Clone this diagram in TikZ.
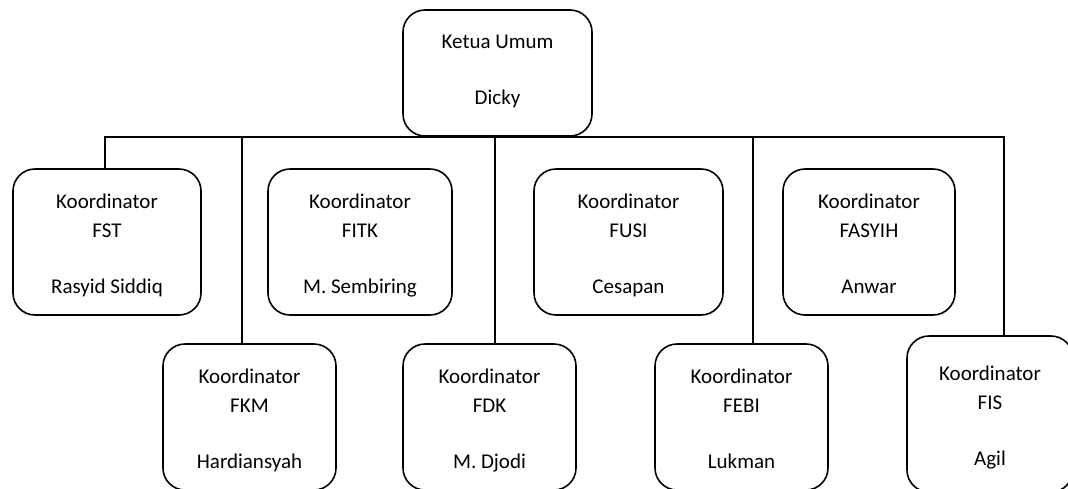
\documentclass[tikz,border=0pt]{standalone}
\usepackage{fontspec}
\setmainfont{Carlito}
\usepackage{tikz}
\usetikzlibrary{positioning}

\newcommand{\koor}[2]{\rule{0pt}{24pt}Koordinator\\#1\\[27pt]#2\rule[-6pt]{0pt}{6pt}}

\begin{document}
\begin{tikzpicture}[
  x=1pt, y=-1pt,
  orgbox/.style={draw, rounded corners=22pt, align=center, inner sep=0pt,
                 line width=1.6pt, minimum height=146pt,
                 font=\fontsize{21}{29}\selectfont},
  link/.style={draw, line width=1.6pt}
]
\useasboundingbox (0,0) rectangle (1068,488);
% ketua umum
\node[orgbox, minimum width=189pt, minimum height=126pt] (ketua) at (497.5,73) {\rule{0pt}{14pt}Ketua Umum\\[27pt]Dicky\rule[-7pt]{0pt}{7pt}};
% baris atas
\node[orgbox, minimum width=188pt] (fst) at (107,242) {\koor{FST}{Rasyid Siddiq}};
\node[orgbox, minimum width=184pt] (fitk) at (360,242) {\koor{FITK}{M. Sembiring}};
\node[orgbox, minimum width=189pt] (fusi) at (628.5,242) {\koor{FUSI}{Cesapan}};
\node[orgbox, minimum width=172pt] (fasyih) at (869,242) {\koor{FASYIH}{Anwar}};
% baris bawah
\node[orgbox, minimum width=173pt] (fkm) at (249.5,417) {\koor{FKM}{Hardiansyah}};
\node[orgbox, minimum width=173pt] (fdk) at (489.5,417) {\koor{FDK}{M. Djodi}};
\node[orgbox, minimum width=173pt] (febi) at (741.5,417) {\koor{FEBI}{Lukman}};
\node[orgbox, minimum width=166pt, minimum height=156pt] (fis) at (990,414) {\koor{FIS}{Agil}};
% garis
\path[link] ([xshift=-2pt]fst.north) |- (ketua.south);
\path[link] ([xshift=-7.5pt]fkm.north) |- (ketua.south);
\path[link] ([xshift=5.5pt]fdk.north) |- (ketua.south);
\path[link] ([xshift=11.5pt]febi.north) |- (ketua.south);
\path[link] ([xshift=14pt]fis.north) |- (ketua.south);
\end{tikzpicture}
\end{document}
